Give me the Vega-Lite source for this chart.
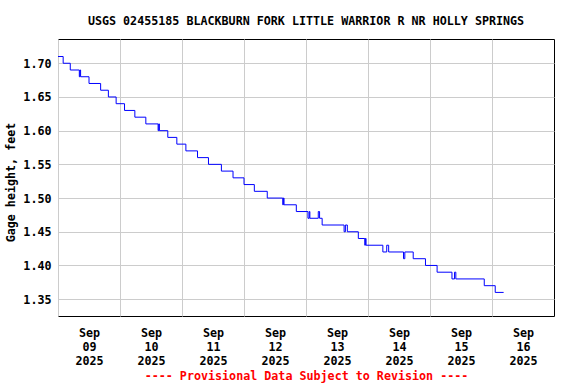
{
  "$schema": "https://vega.github.io/schema/vega-lite/v6.json",
  "width": 496,
  "height": 277,
  "autosize": {"type": "none"},
  "padding": {"left": 58, "top": 39, "right": 22, "bottom": 68},
  "config": {
    "view": {"stroke": "#000000", "strokeWidth": 1},
    "font": "DejaVu Sans Mono"
  },
  "title": {
    "text": "USGS 02455185 BLACKBURN FORK LITTLE WARRIOR R NR HOLLY SPRINGS",
    "font": "DejaVu Sans Mono",
    "fontWeight": "bold",
    "fontSize": 11.7,
    "color": "#000000",
    "anchor": "middle",
    "offset": 11
  },
  "data": {
    "values": [
      {"t": "2025-09-09T00:00:00Z", "v": 1.71},
      {"t": "2025-09-09T02:00:00Z", "v": 1.70},
      {"t": "2025-09-09T04:45:00Z", "v": 1.69},
      {"t": "2025-09-09T08:15:00Z", "v": 1.68},
      {"t": "2025-09-09T08:30:00Z", "v": 1.69},
      {"t": "2025-09-09T08:45:00Z", "v": 1.68},
      {"t": "2025-09-09T12:00:00Z", "v": 1.67},
      {"t": "2025-09-09T16:30:00Z", "v": 1.66},
      {"t": "2025-09-09T19:30:00Z", "v": 1.65},
      {"t": "2025-09-09T22:30:00Z", "v": 1.64},
      {"t": "2025-09-10T01:45:00Z", "v": 1.63},
      {"t": "2025-09-10T05:45:00Z", "v": 1.62},
      {"t": "2025-09-10T10:00:00Z", "v": 1.61},
      {"t": "2025-09-10T14:45:00Z", "v": 1.60},
      {"t": "2025-09-10T15:00:00Z", "v": 1.61},
      {"t": "2025-09-10T15:15:00Z", "v": 1.60},
      {"t": "2025-09-10T18:30:00Z", "v": 1.59},
      {"t": "2025-09-10T22:00:00Z", "v": 1.58},
      {"t": "2025-09-11T01:30:00Z", "v": 1.57},
      {"t": "2025-09-11T06:00:00Z", "v": 1.56},
      {"t": "2025-09-11T10:15:00Z", "v": 1.55},
      {"t": "2025-09-11T15:15:00Z", "v": 1.54},
      {"t": "2025-09-11T19:45:00Z", "v": 1.53},
      {"t": "2025-09-12T00:00:00Z", "v": 1.52},
      {"t": "2025-09-12T04:00:00Z", "v": 1.51},
      {"t": "2025-09-12T09:00:00Z", "v": 1.50},
      {"t": "2025-09-12T15:00:00Z", "v": 1.49},
      {"t": "2025-09-12T15:15:00Z", "v": 1.50},
      {"t": "2025-09-12T15:30:00Z", "v": 1.49},
      {"t": "2025-09-12T20:15:00Z", "v": 1.48},
      {"t": "2025-09-13T00:45:00Z", "v": 1.47},
      {"t": "2025-09-13T01:15:00Z", "v": 1.48},
      {"t": "2025-09-13T01:30:00Z", "v": 1.47},
      {"t": "2025-09-13T04:45:00Z", "v": 1.48},
      {"t": "2025-09-13T05:15:00Z", "v": 1.47},
      {"t": "2025-09-13T06:15:00Z", "v": 1.46},
      {"t": "2025-09-13T14:45:00Z", "v": 1.45},
      {"t": "2025-09-13T15:15:00Z", "v": 1.46},
      {"t": "2025-09-13T16:00:00Z", "v": 1.45},
      {"t": "2025-09-13T20:15:00Z", "v": 1.44},
      {"t": "2025-09-13T22:45:00Z", "v": 1.43},
      {"t": "2025-09-13T23:00:00Z", "v": 1.44},
      {"t": "2025-09-13T23:15:00Z", "v": 1.43},
      {"t": "2025-09-14T05:45:00Z", "v": 1.42},
      {"t": "2025-09-14T07:15:00Z", "v": 1.43},
      {"t": "2025-09-14T08:00:00Z", "v": 1.42},
      {"t": "2025-09-14T13:45:00Z", "v": 1.41},
      {"t": "2025-09-14T14:15:00Z", "v": 1.42},
      {"t": "2025-09-14T17:30:00Z", "v": 1.41},
      {"t": "2025-09-14T22:15:00Z", "v": 1.40},
      {"t": "2025-09-15T02:45:00Z", "v": 1.39},
      {"t": "2025-09-15T08:30:00Z", "v": 1.38},
      {"t": "2025-09-15T09:30:00Z", "v": 1.39},
      {"t": "2025-09-15T10:00:00Z", "v": 1.38},
      {"t": "2025-09-15T21:00:00Z", "v": 1.37},
      {"t": "2025-09-16T01:15:00Z", "v": 1.36},
      {"t": "2025-09-16T04:30:00Z", "v": 1.36}
    ]
  },
  "mark": {"type": "line", "interpolate": "step-after", "color": "#0000ff", "strokeWidth": 1, "clip": true},
  "encoding": {
    "x": {
      "field": "t",
      "type": "temporal",
      "scale": {
        "type": "utc",
        "domain": [
          {"year": 2025, "month": 9, "date": 9, "utc": true},
          {"year": 2025, "month": 9, "date": 17, "utc": true}
        ]
      },
      "axis": {
        "values": [
          {"year": 2025, "month": 9, "date": 9, "utc": true},
          {"year": 2025, "month": 9, "date": 10, "utc": true},
          {"year": 2025, "month": 9, "date": 11, "utc": true},
          {"year": 2025, "month": 9, "date": 12, "utc": true},
          {"year": 2025, "month": 9, "date": 13, "utc": true},
          {"year": 2025, "month": 9, "date": 14, "utc": true},
          {"year": 2025, "month": 9, "date": 15, "utc": true},
          {"year": 2025, "month": 9, "date": 16, "utc": true}
        ],
        "labelExpr": "[utcFormat(datum.value, '%b'), utcFormat(datum.value, '%d'), utcFormat(datum.value, '%Y')]",
        "labelOffset": 31,
        "labelBaseline": "top",
        "labelPadding": 11,
        "labelLineHeight": 14,
        "labelFont": "DejaVu Sans Mono",
        "labelFontWeight": "bold",
        "labelFontSize": 11.7,
        "labelColor": "#000000",
        "labelFlush": false,
        "labelOverlap": false,
        "labelBound": false,
        "ticks": false,
        "domain": false,
        "grid": true,
        "gridColor": "#cccccc",
        "gridWidth": 1,
        "gridOpacity": 1,
        "title": "---- Provisional Data Subject to Revision ----",
        "titleFont": "DejaVu Sans Mono",
        "titleFontWeight": "bold",
        "titleFontSize": 11.7,
        "titleColor": "#ff0000",
        "titlePadding": 4
      }
    },
    "y": {
      "field": "v",
      "type": "quantitative",
      "scale": {"domain": [1.325, 1.736], "nice": false, "zero": false},
      "axis": {
        "values": [1.35, 1.4, 1.45, 1.5, 1.55, 1.6, 1.65, 1.7],
        "format": ".2f",
        "labelPadding": 7,
        "labelFont": "DejaVu Sans Mono",
        "labelFontWeight": "bold",
        "labelFontSize": 11.7,
        "labelColor": "#000000",
        "ticks": false,
        "domain": false,
        "grid": true,
        "gridColor": "#cccccc",
        "gridWidth": 1,
        "gridOpacity": 1,
        "title": "Gage height, feet",
        "titleFont": "DejaVu Sans Mono",
        "titleFontWeight": "bold",
        "titleFontSize": 11.7,
        "titleColor": "#000000",
        "titlePadding": 6,
        "titleY": 143
      }
    }
  }
}
